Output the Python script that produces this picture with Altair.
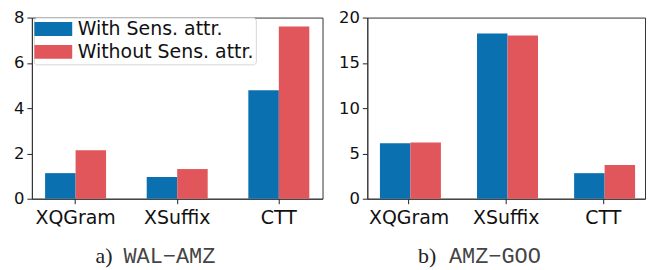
import altair as alt
import pandas as pd

methods = ["XQGram", "XSuffix", "CTT"]
series = ["With Sens. attr.", "Without Sens. attr."]
colors = ["#0a70b0", "#e1565b"]

left_with = [1.13, 0.96, 4.79]
left_without = [2.14, 1.31, 7.61]
right_with = [6.12, 18.23, 2.82]
right_without = [6.22, 18.03, 3.71]

left_ticks = [0, 2, 4, 6, 8]
right_ticks = [0, 5, 10, 15, 20]

left_caption = ("a)", "WAL\u2212AMZ")
right_caption = ("b)", "AMZ\u2212GOO")


def long_df(w, wo):
    rows = []
    for m, a, b in zip(methods, w, wo):
        rows.append({"method": m, "series": series[0], "value": a})
        rows.append({"method": m, "series": series[1], "value": b})
    return pd.DataFrame(rows)


# legend swatch: 14px tall for layout, drawn 38px wide
PATH = "M-1.57,-1H3.86V1H-1.57Z"
FONT = "DejaVu Sans"


def panel(df, ymax, ticks, width, caption, show_legend, cap_x):
    legend = None
    if show_legend:
        legend = alt.Legend(
            title=None, orient="none", legendX=2, legendY=0,
            symbolType=PATH, symbolSize=196, symbolStrokeWidth=0,
            labelFontSize=19, labelFont=FONT, labelColor="#111",
            labelOffset=23, rowPadding=3, padding=2,
            fillColor="white", strokeColor="#d6d6d6", cornerRadius=3,
            labelLimit=400,
        )
    bars = alt.Chart(df).mark_bar().encode(
        x=alt.X("method:N", sort=methods,
                scale=alt.Scale(paddingInner=0.4, paddingOuter=0.13),
                axis=alt.Axis(title=None, labelAngle=0, labelFontSize=19,
                              labelFont=FONT, labelColor="#111",
                              tickSize=5, labelPadding=5, tickColor="#222",
                              domainColor="#333")),
        xOffset=alt.XOffset("series:N", sort=series,
                            scale=alt.Scale(paddingInner=0, paddingOuter=0)),
        y=alt.Y("value:Q", scale=alt.Scale(domain=[0, ymax], nice=False),
                axis=alt.Axis(title=None, values=ticks, grid=False,
                              labelFontSize=16.5, labelFont=FONT,
                              labelColor="#111", tickSize=5, labelPadding=3,
                              tickColor="#222", domainColor="#333")),
        color=alt.Color("series:N", sort=series,
                        scale=alt.Scale(domain=series, range=colors),
                        legend=legend),
    )
    cap_df = pd.DataFrame({"a": [caption[0]], "b": [caption[1]]})
    cap1 = alt.Chart(cap_df).mark_text(
        font="Liberation Serif", fontSize=22, color="#222", align="left",
        baseline="middle").encode(
        text="a:N", x=alt.value(cap_x[0]), y=alt.value(240))
    cap2 = alt.Chart(cap_df).mark_text(
        font="Liberation Mono", fontSize=22, color="#444", align="left",
        baseline="middle").encode(
        text="b:N", x=alt.value(cap_x[1]), y=alt.value(240))
    return alt.layer(bars, cap1, cap2).properties(width=width, height=182)


left = panel(long_df(left_with, left_without), 8, left_ticks, 292,
             left_caption, True, (64, 92))
right = panel(long_df(right_with, right_without), 20, right_ticks, 279,
              right_caption, False, (51, 82))

chart = alt.hconcat(left, right, spacing=14).properties(
    padding={"left": 5, "top": 0, "right": 0, "bottom": 0}
).resolve_scale(color="independent", y="independent").configure_view(
    stroke="#333", strokeWidth=1
).configure_axis(domainWidth=1, tickWidth=1)

chart.save("out.html", embed_options={"renderer": "svg", "actions": False})
